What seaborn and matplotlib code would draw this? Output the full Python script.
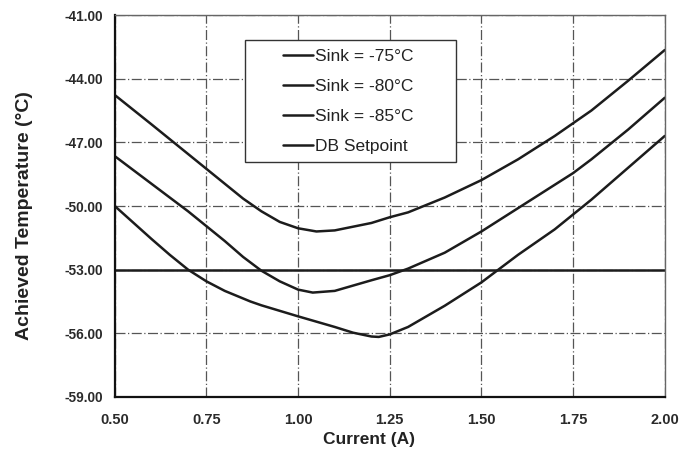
import matplotlib
matplotlib.use("Agg")
import matplotlib.pyplot as plt
from matplotlib.patches import Rectangle
import seaborn as sns
import pandas as pd

current_75 = [0.50, 0.60, 0.70, 0.75, 0.80, 0.85, 0.90, 0.95, 1.00, 1.05, 1.10, 1.20, 1.25, 1.30, 1.40, 1.50, 1.60, 1.70, 1.75, 1.80, 1.90, 2.00]
temp_75 = [-44.77, -46.15, -47.55, -48.25, -48.95, -49.65, -50.25, -50.75, -51.05, -51.2, -51.15, -50.8, -50.53, -50.3, -49.6, -48.78, -47.8, -46.7, -46.1, -45.5, -44.1, -42.65]

current_80 = [0.50, 0.60, 0.70, 0.75, 0.80, 0.85, 0.90, 0.95, 1.00, 1.04, 1.10, 1.20, 1.25, 1.30, 1.40, 1.50, 1.60, 1.70, 1.75, 1.80, 1.90, 2.00]
temp_80 = [-47.65, -48.95, -50.25, -50.95, -51.65, -52.4, -53.05, -53.55, -53.94, -54.08, -54.0, -53.5, -53.26, -52.95, -52.2, -51.2, -50.1, -49.0, -48.45, -47.8, -46.4, -44.9]

current_85 = [0.50, 0.60, 0.65, 0.70, 0.75, 0.80, 0.87, 0.90, 1.00, 1.10, 1.15, 1.20, 1.22, 1.25, 1.30, 1.40, 1.50, 1.60, 1.70, 1.75, 1.80, 1.90, 2.00]
temp_85 = [-50.0, -51.55, -52.3, -53.0, -53.55, -54.0, -54.5, -54.68, -55.2, -55.7, -55.97, -56.15, -56.17, -56.05, -55.7, -54.7, -53.6, -52.3, -51.1, -50.4, -49.7, -48.2, -46.7]

current_db = [0.50, 2.00]
temp_db = [-53.0, -53.0]

series_names = ["Sink = -75°C", "Sink = -80°C", "Sink = -85°C", "DB Setpoint"]

x_ticks = [0.50, 0.75, 1.00, 1.25, 1.50, 1.75, 2.00]
y_ticks = [-59.0, -56.0, -53.0, -50.0, -47.0, -44.0, -41.0]

frames = []
for name, xs, ys in zip(series_names,
                        [current_75, current_80, current_85, current_db],
                        [temp_75, temp_80, temp_85, temp_db]):
    frames.append(pd.DataFrame({"Current": xs, "Temp": ys, "Series": name}))
df = pd.concat(frames, ignore_index=True)

sns.set_theme(style="white")
plt.rcParams["font.family"] = ["Liberation Sans", "DejaVu Sans"]

fig = plt.figure(figsize=(6.79, 4.55), dpi=100)
ax = fig.add_axes([0.169, 0.1275, 0.81, 0.8395])

palette = {n: "#1c1c1c" for n in series_names}
sns.lineplot(data=df, x="Current", y="Temp", hue="Series", palette=palette,
             hue_order=series_names, linewidth=1.8, ax=ax, sort=True,
             estimator=None)

ax.set_xlim(0.5, 2.0)
ax.set_ylim(-59, -41)
ax.set_xticks(x_ticks)
ax.set_yticks(y_ticks)
ax.set_xticklabels([f"{v:.2f}" for v in x_ticks], fontsize=10.5, fontweight="bold", color="#2a2a2a")
ax.set_yticklabels([f"{v:.2f}" for v in y_ticks], fontsize=9.8, fontweight="bold", color="#2a2a2a")
ax.tick_params(axis="both", direction="inout", length=5, width=1, color="#333333")
ax.tick_params(axis="x", pad=9)
ax.tick_params(axis="y", pad=6)

ax.grid(True, color="#555555", linestyle=(0, (8, 2, 1, 2)), linewidth=0.9)
ax.set_axisbelow(True)

for side in ["left", "bottom"]:
    ax.spines[side].set_color("#111111")
    ax.spines[side].set_linewidth(1.6)
for side in ["top", "right"]:
    ax.spines[side].set_color("#666666")
    ax.spines[side].set_linewidth(1.0)

ax.set_xlabel("Current (A)", fontsize=12.5, fontweight="bold", color="#222222")
ax.set_ylabel("Achieved Temperature (°C)", fontsize=14, fontweight="bold", color="#222222")
ax.xaxis.set_label_coords(0.462, -0.092)
ax.yaxis.set_label_coords(-0.148, 0.476)

# legend box
ax.add_patch(Rectangle((0.236, 0.615), 0.384, 0.3195, transform=ax.transAxes,
                       facecolor="white", edgecolor="#333333", linewidth=1.0,
                       zorder=5))
leg = ax.legend(loc="upper left", bbox_to_anchor=(0.3055, 0.912), frameon=False,
                fontsize=12.5, handlelength=1.75, handletextpad=0.1,
                labelspacing=0.86, borderpad=0.0, borderaxespad=0.0, title=None)
leg.set_zorder(6)
for t in leg.get_texts():
    t.set_color("#222222")

fig.savefig("out.png", dpi=100)
